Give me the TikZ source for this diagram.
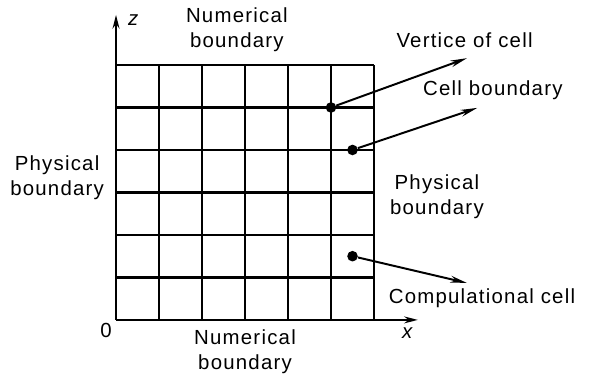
\documentclass[tikz,border=0pt]{standalone}
\usepackage{fontspec}
\setmainfont{Liberation Sans}[LetterSpace=6]
\usepackage{tikz}
\usetikzlibrary{arrows.meta, positioning}

\begin{document}
\begin{tikzpicture}[x=1cm, y=0.988cm,
    every node/.style={font=\fontsize{13.5}{16.5}\selectfont},
    gridline/.style={line width=1.8pt},
    axisline/.style={line width=1.8pt, -{Stealth[length=9pt, width=4.5pt]}},
    leader/.style={line width=1.3pt, -{Stealth[length=11pt, width=4.5pt]}},
    dot/.style={circle, fill, inner sep=0pt, minimum size=7pt}]
  % frame: pixel margins of the reference
  \useasboundingbox (-2.698,-1.459) rectangle (11.023,7.53);

  % 6x6 cells
  \foreach \i in {0,...,6} {
    \draw[gridline] (\i,0) -- (\i,6);
    \draw[gridline] (0,\i) -- (6,\i);
  }

  % axes
  \coordinate (origin) at (0,0);
  \coordinate (ztip) at (0,7.18);
  \coordinate (xtip) at (7.02,0);
  \draw[axisline] (0,6) -- (ztip);
  \draw[axisline] (6,0) -- (xtip);
  \node (zlbl) at (0.4,7.06) {\itshape z};
  \node (xlbl) at (6.77,-0.3) {\itshape x};
  \node (olbl) at (-0.23,-0.24) {0};

  % boundary labels
  \node[align=center] (numtop) at (2.81,6.82) {Numerical\\boundary};
  \node[align=center] (numbot) at (3.0,-0.75) {Numerical\\boundary};
  \node[align=center] (physl) at (-1.37,3.34) {Physical\\boundary};
  \node[align=center, anchor=west] (physr) at (6.25,2.89) {Physical\\boundary};

  % marked points with their labels
  \node[dot] (vertex) at (5,5) {};
  \node[dot] (cellbd) at (5.5,4) {};
  \node[dot] (cellc) at (5.5,1.5) {};
  \node[anchor=west] (vertexlbl) at (6.4,6.59) {Vertice of cell};
  \node[anchor=west] (cellbdlbl) at (7.02,5.41) {Cell boundary};
  \node[anchor=west] (cellclbl) at (6.22,0.52) {Compulational cell};
  \coordinate (vertexend) at (8.16,6.16);
  \coordinate (cellbdend) at (8.40,4.99);
  \coordinate (cellcend) at (8.16,0.87);
  \draw[leader] (vertex) -- (vertexend);
  \draw[leader] (cellbd) -- (cellbdend);
  \draw[leader] (cellc) -- (cellcend);
\end{tikzpicture}
\end{document}
